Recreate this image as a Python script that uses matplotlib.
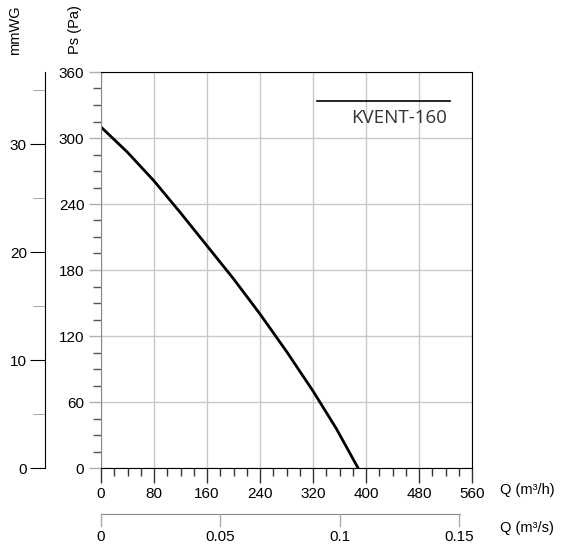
import numpy as np
import matplotlib.pyplot as plt
from matplotlib.ticker import MultipleLocator

plt.rcParams['font.family'] = ['Liberation Sans', 'DejaVu Sans']

# fan curve
flow_m3h = [0, 40, 80, 120, 160, 200, 240, 280, 320, 355, 388]
pressure_pa = [310, 287, 261, 232, 202, 172, 140, 106, 70, 36, 0]

x_ticks = [0, 80, 160, 240, 320, 400, 480, 560]
y_ticks = [0, 60, 120, 180, 240, 300, 360]
mmwg_ticks = [0, 10, 20, 30]
m3s_ticks = [0, 0.05, 0.1, 0.15]
m3s_labels = ["0", "0.05", "0.1", "0.15"]
model = "KVENT-160"

PA_PER_MMWG = 9.80665

fig = plt.figure(figsize=(5.63, 5.45), dpi=100)
W, H = 563, 545

def rect(x0, y0, x1, y1):
    return [x0 / W, 1 - y1 / H, (x1 - x0) / W, (y1 - y0) / H]

ax = fig.add_axes(rect(101, 72, 472, 468))
ax.plot(flow_m3h, pressure_pa, color="black", lw=2)
ax.set_xlim(0, 560)
ax.set_ylim(0, 360)
ax.set_xticks(x_ticks)
ax.set_yticks(y_ticks)
ax.xaxis.set_minor_locator(MultipleLocator(20))
ax.yaxis.set_minor_locator(MultipleLocator(15))
ax.grid(True, which="major", color="#c8c8c8", lw=1)
ax.tick_params(axis="x", which="major", direction="out", length=11, width=1,
               color="#333333", labelsize=11, pad=3)
ax.tick_params(axis="x", which="minor", direction="out", length=6, width=1, color="#333333")
ax.tick_params(axis="y", which="major", direction="out", length=9, width=1,
               color="#b0b0b0", labelsize=11, pad=3)
ax.tick_params(axis="y", which="minor", direction="out", length=6, width=1, color="#555555")
for s in ["top", "bottom", "right"]:
    ax.spines[s].set_color("black")
ax.spines["left"].set_color("#888888")
ax.set_axisbelow(True)

# legend-like label
ax.plot([326, 527], [334, 334], color="black", lw=1.2)
ax.text(522, 318, model, ha="right", va="center", fontsize=13.5,
        color="#333333", family=["Open Sans", "DejaVu Sans"])

# mmWG axis
ax2 = fig.add_axes(rect(45, 72, 45.5, 468))
ax2.set_ylim(0, 360 / PA_PER_MMWG)
ax2.set_yticks(mmwg_ticks)
ax2.yaxis.set_minor_locator(MultipleLocator(5))
ax2.set_xticks([])
for s in ["top", "bottom", "right"]:
    ax2.spines[s].set_visible(False)
ax2.spines["left"].set_color("black")
ax2.tick_params(axis="y", which="major", direction="out", length=11, color="black",
                labelsize=11, pad=2)
ax2.tick_params(axis="y", which="minor", direction="out", length=9, color="#999999")

# m3/s axis
ax3 = fig.add_axes(rect(101, 514, 460, 515))
ax3.set_xlim(0, (460 - 101) / (472 - 101) * 560 / 3600)
ax3.set_xticks(m3s_ticks)
ax3.set_xticklabels(m3s_labels)
ax3.set_yticks([])
for s in ["bottom", "left", "right"]:
    ax3.spines[s].set_visible(False)
ax3.spines["top"].set_color("#888888")
ax3.tick_params(axis="x", direction="in", length=0, labelsize=11, pad=11)
for t in m3s_ticks:
    x = ax3.transData.transform((t, 0))[0]
    fig.add_artist(plt.Line2D([x / W, x / W], [1 - 514 / H, 1 - 526 / H],
                              color="#aaaaaa", lw=1))

# axis titles
fig.text(15 / W, 1 - 30 / H, "mmWG", rotation=90, ha="center", va="center", fontsize=10.5)
fig.text(75 / W, 1 - 30 / H, "Ps (Pa)", rotation=90, ha="center", va="center", fontsize=10.5)
fig.text(500 / W, 1 - 490 / H, "Q (m³/h)", ha="left", va="center", fontsize=10.5)
fig.text(500 / W, 1 - 528 / H, "Q (m³/s)", ha="left", va="center", fontsize=10.5)

fig.savefig("out.png", dpi=100)
